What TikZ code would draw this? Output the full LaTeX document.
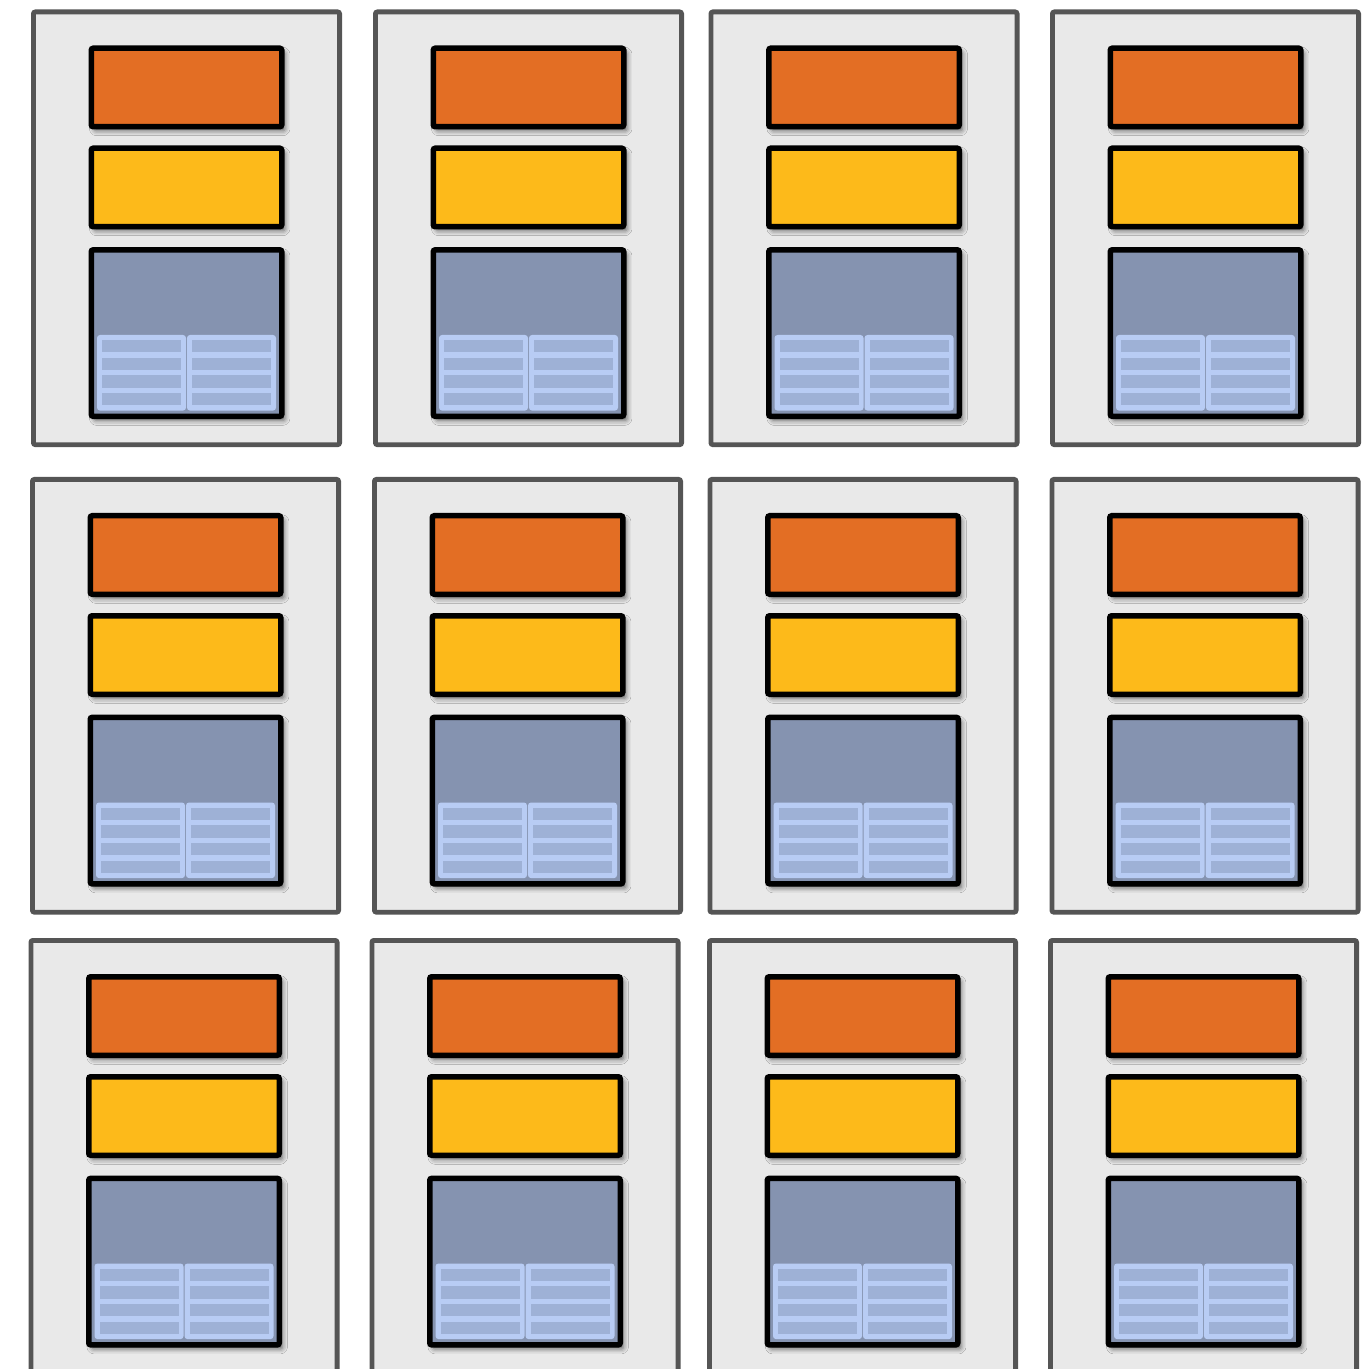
\documentclass[tikz,border=0pt]{standalone}
\usetikzlibrary{positioning,shadows.blur}

\definecolor{unitorange}{HTML}{E36E24}
\definecolor{unityellow}{HTML}{FDBA1A}
\definecolor{unitslate}{HTML}{8593B0}
\definecolor{banklight}{HTML}{B8CCF4}
\definecolor{bankbar}{HTML}{9EB1D6}
\definecolor{panelfill}{HTML}{E9E9E9}
\definecolor{panelline}{HTML}{555555}

\begin{document}
\begin{tikzpicture}[x=0.5pt,y=-0.5pt,
 panel/.style={draw=panelline,line width=2.4pt,fill=panelfill,rounded corners=1pt,minimum width=153.1pt,minimum height=216.4pt,inner sep=0pt,anchor=north west},
 unit/.style={draw=black,line width=2.75pt,rounded corners=1pt,minimum width=95.25pt,minimum height=39.25pt,inner sep=0pt,
  blur shadow={shadow xshift=1.6pt,shadow yshift=-2pt,shadow blur radius=2.5pt,shadow opacity=60}},
 bank/.style={fill=banklight,rounded corners=1.5pt,minimum width=44.5pt,minimum height=37.8pt,inner sep=0pt,outer sep=0pt},
 bar/.style={fill=bankbar,minimum width=39.5pt,minimum height=6.15pt,inner sep=0pt,outer sep=0pt}]
\useasboundingbox (0,0) rectangle (1371,1369);
\foreach \n/\px/\py in {1/31/9.5,2/373/9.5,3/708.5/9.5,4/1050/9.5,
  5/30/477,6/372/477,7/707.5/477,8/1049.5/477,
  9/28.5/938,10/369.5/938,11/707/938,12/1048/938}{
 \node[panel] (panel-\n) at (\px,\py) {};
 \node[unit,fill=unitorange,below=18pt of panel-\n.north] (upper-\n) {};
 \node[unit,fill=unityellow,below=8pt of upper-\n] (middle-\n) {};
 \node[unit,fill=unitslate,minimum height=83.25pt,below=8.8pt of middle-\n] (lower-\n) {};
 \node[bank,above right=4.25pt and 4.25pt of lower-\n.south west] (bankL-\n) {};
 \node[bank,above left=4.25pt and 4.25pt of lower-\n.south east] (bankR-\n) {};
 \foreach \k [evaluate=\k as \off using 2.5+(\k-1)*8.85] in {1,...,4}{
  \node[bar,below=\off pt of bankL-\n.north] (barL-\n-\k) {};
  \node[bar,below=\off pt of bankR-\n.north] (barR-\n-\k) {};
 }
}
\end{tikzpicture}
\end{document}
